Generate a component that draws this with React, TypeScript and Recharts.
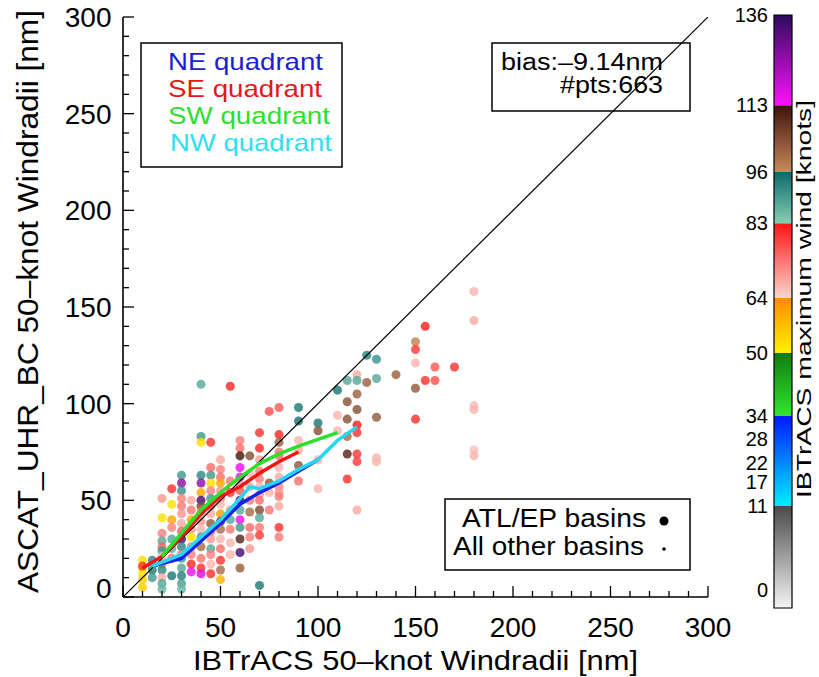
import React from 'react';
import {
  ScatterChart, Scatter, XAxis, YAxis, Cell, Customized,
  ComposedChart, ReferenceArea,
} from 'recharts';

const FONT = '"Liberation Sans", Arial, Helvetica, sans-serif';

// IBTrACS 50-kt radius bins (nm) and the ASCAT radii found in each bin
const ibtracsRadius = [10, 15, 20, 25, 30, 35, 40, 45, 50, 55, 60, 65, 70, 75, 80, 90, 100, 110, 115, 120, 125, 130, 140, 150, 155, 160, 170, 180];
const ascatRadius: number[][] = [
  [19, 15, 12, 9, 5, 16],
  [19, 14, 10, 16],
  [51, 41, 33, 29, 26, 24, 21, 17, 14, 10, 7, 4],
  [56, 48, 40, 36, 30, 25, 20, 11],
  [63, 59, 55, 51, 47, 43, 38, 34, 30, 26, 22, 20, 15, 11, 7, 4],
  [50, 45, 40, 35, 31, 26, 22, 17, 13],
  [110, 83, 80, 63, 59, 54, 50, 47, 44, 39, 35, 31, 26, 20, 15, 12],
  [80, 67, 63, 59, 55, 51, 47, 43, 38, 34, 30, 25, 22, 17, 12],
  [71, 66, 62, 59, 55, 51, 48, 43, 39, 35, 30, 25, 19, 14, 9],
  [109, 60, 54, 45, 40, 35, 28, 22],
  [81, 77, 73, 67, 62, 58, 55, 50, 45, 40, 36, 30, 23, 15],
  [73, 64, 57, 50, 44, 36, 31, 25],
  [85, 77, 71, 65, 61, 57, 53, 50, 45, 41, 36, 32, 6],
  [96, 59, 54, 45],
  [98, 84, 80, 75, 73, 67, 62, 57, 54, 52, 47, 36, 31],
  [98, 91, 81, 76, 68, 60],
  [90, 86, 71, 56],
  [107, 94, 86],
  [112, 101, 92, 83, 74, 61],
  [115, 112, 105, 97, 89, 85, 74, 70, 45],
  [125, 111],
  [123, 113, 93, 72, 70],
  [115],
  [132, 128, 121, 108, 92],
  [140, 112],
  [119, 112],
  [119],
  [158, 143, 99, 97, 76, 73],
];
// IBTrACS maximum wind (kt) for the same points
const maxWind: number[][] = [
  [52, 53, 52, 54, 55, 80],
  [92, 94, 90, 88],
  [70, 52, 72, 88, 75, 90, 67, 74, 92, 68, 88, 86],
  [80, 52, 60, 72, 88, 87, 74, 94],
  [90, 125, 91, 72, 73, 70, 68, 75, 133, 92, 74, 90, 88, 93, 89, 86],
  [68, 73, 60, 70, 52, 73, 72, 81, 115],
  [88, 90, 52, 92, 125, 60, 133, 105, 73, 70, 67, 89, 100, 73, 80, 117],
  [80, 74, 90, 52, 72, 90, 73, 68, 103, 75, 70, 88, 72, 67, 80],
  [68, 72, 74, 60, 70, 73, 67, 61, 110, 100, 67, 74, 80, 100, 58],
  [81, 73, 80, 70, 88, 73, 67, 67],
  [72, 74, 112, 115, 115, 70, 76, 133, 88, 115, 90, 110, 133, 102],
  [104, 67, 68, 73, 100, 74, 72, 70],
  [80, 81, 69, 73, 72, 67, 70, 74, 105, 88, 73, 79, 94],
  [77, 103, 67, 73],
  [76, 81, 102, 73, 74, 67, 68, 72, 70, 73, 68, 80, 73],
  [94, 95, 67, 68, 103, 74],
  [94, 104, 67, 67],
  [94, 67, 67],
  [88, 104, 104, 100, 110, 80],
  [68, 88, 102, 104, 82, 80, 79, 79, 68],
  [93, 102],
  [91, 88, 103, 67, 67],
  [102],
  [97, 79, 67, 103, 80],
  [82, 80],
  [76, 77],
  [80],
  [67, 68, 66, 67, 66, 67],
];

// quadrant median curves
const neRadius = [15, 30, 40, 50, 60, 70, 80, 90, 100];
const neAscat = [16, 20, 29, 38, 48, 54, 59, 65, 71];
const seRadius = [10, 20, 30, 40, 50, 60, 70, 80, 90];
const seAscat = [15, 21, 31, 43, 52, 57, 64, 70, 75];
const swRadius = [20, 30, 40, 50, 60, 70, 80, 90, 110];
const swAscat = [21, 33, 45, 54, 62, 69, 74, 78, 85];
const nwRadius = [15, 30, 40, 50, 60, 65, 70, 80, 90, 100, 110, 120];
const nwAscat = [16, 22, 31, 40, 51, 57, 56, 60, 66, 71, 81, 88];

const axisTicks = [0, 10, 20, 30, 40, 50, 60, 70, 80, 90, 100, 110, 120, 130, 140, 150, 160, 170, 180, 190, 200, 210, 220, 230, 240, 250, 260, 270, 280, 290, 300];

// colour table for maximum wind
const windBounds = [0, 11, 34, 50, 64, 83, 96, 113, 136];
const bandLow = ['#f4f4f4', '#00eeff', '#2ee82e', '#fff000', '#f8d4cc', '#84d0b4', '#c98a5e', '#ff10ff'];
const bandHigh = ['#4a4a4a', '#0018ff', '#107a10', '#ff8a00', '#ff1414', '#0c6a6c', '#3e1208', '#2c0a5c'];
const windTicks = [0, 11, 17, 22, 28, 34, 50, 64, 83, 96, 113, 136];
const calmFloor = -15; // the calm band is drawn taller than its 0-11 kt range

const hexRgb = (h: string) => [1, 3, 5].map((i) => parseInt(h.slice(i, i + 2), 16));
function windColor(w: number) {
  let i = 0;
  while (i < windBounds.length - 2 && w > windBounds[i + 1]) i++;
  const t = Math.max(0, Math.min(1, (w - windBounds[i]) / (windBounds[i + 1] - windBounds[i])));
  const a = hexRgb(bandLow[i]);
  const b = hexRgb(bandHigh[i]);
  return `rgb(${a.map((v, k) => Math.round(v + (b[k] - v) * t)).join(',')})`;
}

const points = ibtracsRadius.flatMap((x, i) =>
  ascatRadius[i].map((y, j) => ({ x, y, wind: maxWind[i][j] })));
const toXY = (xs: number[], ys: number[]) => xs.map((x, i) => ({ x, y: ys[i] }));
const quadrants = [
  { name: 'NE', data: toXY(neRadius, neAscat), color: '#1022e8' },
  { name: 'SE', data: toXY(seRadius, seAscat), color: '#f01616' },
  { name: 'SW', data: toXY(swRadius, swAscat), color: '#2ae02a' },
  { name: 'NW', data: toXY(nwRadius, nwAscat), color: '#26d6f2' },
];
const oneToOne = [{ x: 0, y: 0 }, { x: 300, y: 300 }];
const barSpan = [{ x: 0 }, { x: 1 }];

const MAJOR = 11;
const MINOR = 6;
const isMajor = (v: number) => v % 50 === 0;
const NoDot = () => <g />;

function BottomTick({ x, y, payload }: any) {
  const v = payload.value;
  return (
    <g>
      <line x1={x} y1={y} x2={x} y2={y - (isMajor(v) ? MAJOR : MINOR)} stroke="#000" strokeWidth={1.3} />
      {isMajor(v) && (
        <text x={x} y={y + 40} textAnchor="middle" fontSize={28} fontFamily={FONT} fill="#000">{v}</text>
      )}
    </g>
  );
}
function TopTick({ x, y, payload }: any) {
  return <line x1={x} y1={y} x2={x} y2={y + (isMajor(payload.value) ? MAJOR : MINOR)} stroke="#000" strokeWidth={1.3} />;
}
function LeftTick({ x, y, payload }: any) {
  const v = payload.value;
  return (
    <g>
      <line x1={x} y1={y} x2={x + (isMajor(v) ? MAJOR : MINOR)} y2={y} stroke="#000" strokeWidth={1.3} />
      {isMajor(v) && (
        <text x={x - 11.5} y={y + 10 - (v === 0 ? 9.5 : 0)} textAnchor="end" fontSize={28} fontFamily={FONT} fill="#000">{v}</text>
      )}
    </g>
  );
}
function RightTick({ x, y, payload }: any) {
  return <line x1={x} y1={y} x2={x - (isMajor(payload.value) ? MAJOR : MINOR)} y2={y} stroke="#000" strokeWidth={1.3} />;
}

function PlotText() {
  const stretch = { lengthAdjust: 'spacingAndGlyphs' as const };
  return (
    <g fontFamily={FONT}>
      <text x={415.5} y={670} textAnchor="middle" fontSize={28} textLength={445} {...stretch} fill="#000">
        IBTrACS 50–knot Windradii [nm]
      </text>
      <text transform="translate(38,301.5) rotate(-90)" textAnchor="middle" fontSize={30} textLength={583} {...stretch} fill="#000">
        ASCAT_UHR_BC 50–knot Windradii [nm]
      </text>

      <rect x={141} y={43} width={201} height={124} fill="none" stroke="#000" strokeWidth={1.5} />
      <text x={168} y={70} fontSize={24} textLength={155} {...stretch} fill="#1c1cd0">NE quadrant</text>
      <text x={168} y={96.5} fontSize={24} textLength={154} {...stretch} fill="#e41818">SE quadrant</text>
      <text x={168} y={124} fontSize={24} textLength={162} {...stretch} fill="#2ee02e">SW quadrant</text>
      <text x={170} y={151} fontSize={24} textLength={162} {...stretch} fill="#2ee0f0">NW quadrant</text>

      <rect x={492} y={43} width={198} height={68} fill="none" stroke="#000" strokeWidth={1.5} />
      <text x={501} y={69.5} fontSize={23} textLength={162} {...stretch} fill="#000">bias:–9.14nm</text>
      <text x={663} y={93} textAnchor="end" fontSize={23} textLength={103} {...stretch} fill="#000">#pts:663</text>

      <rect x={445} y={499} width={245} height={71} fill="none" stroke="#000" strokeWidth={1.5} />
      <text x={462} y={527} fontSize={26} textLength={184} {...stretch} fill="#000">ATL/EP basins</text>
      <circle cx={664} cy={521} r={4.5} fill="#000" />
      <text x={453} y={555} fontSize={26} textLength={191} {...stretch} fill="#000">All other basins</text>
      <circle cx={664} cy={549} r={1.8} fill="#000" />
    </g>
  );
}

function ColorbarTick({ x, y, payload }: any) {
  const calm = payload.value === calmFloor;
  return (
    <text x={x} y={y + 7 - (calm ? 18 : 0)} textAnchor="end" fontSize={20} fontFamily={FONT} fill="#000">
      {calm ? 0 : payload.value}
    </text>
  );
}
function ColorbarTitle() {
  return (
    <text transform="translate(811,299) rotate(-90)" textAnchor="middle" fontSize={21} fontFamily={FONT}
      textLength={398} lengthAdjust="spacingAndGlyphs" fill="#000">
      IBTrACS maximum wind [knots]
    </text>
  );
}

const frame = { stroke: '#000', strokeWidth: 1.6 };

export default function App() {
  return (
    <div style={{ position: 'absolute', left: 0, top: 0, width: 819, height: 677, background: '#fff', fontFamily: FONT }}>
      <div style={{ position: 'absolute', left: 0, top: 0 }}>
        <ScatterChart width={819} height={677} margin={{ top: 17, right: 111, bottom: 0, left: 0 }}>
          <XAxis xAxisId="b" type="number" dataKey="x" domain={[0, 300]} ticks={axisTicks} interval={0}
            height={80} tickSize={0} tickMargin={0} tickLine={false} axisLine={frame} tick={BottomTick} allowDataOverflow />
          <XAxis xAxisId="t" orientation="top" type="number" dataKey="x" domain={[0, 300]} ticks={axisTicks} interval={0}
            height={0} tickSize={0} tickMargin={0} tickLine={false} axisLine={frame} tick={TopTick} allowDataOverflow />
          <YAxis yAxisId="l" type="number" dataKey="y" domain={[0, 300]} ticks={axisTicks} interval={0}
            width={123} tickSize={0} tickMargin={0} tickLine={false} axisLine={frame} tick={LeftTick} allowDataOverflow />
          <YAxis yAxisId="r" orientation="right" type="number" dataKey="y" domain={[0, 300]} ticks={axisTicks} interval={0}
            width={0} tickSize={0} tickMargin={0} tickLine={false} axisLine={frame} tick={RightTick} allowDataOverflow />

          <Scatter xAxisId="b" yAxisId="l" data={points} isAnimationActive={false} fillOpacity={0.82}>
            {points.map((p, i) => <Cell key={i} fill={windColor(p.wind)} />)}
          </Scatter>
          <Scatter xAxisId="b" yAxisId="l" data={oneToOne} line={{ stroke: '#000', strokeWidth: 1.2 }}
            shape={NoDot} isAnimationActive={false} />
          {quadrants.map((q) => (
            <Scatter key={q.name} xAxisId="b" yAxisId="l" data={q.data} line={{ stroke: q.color, strokeWidth: 3.5 }}
              shape={NoDot} isAnimationActive={false} />
          ))}
          <Customized component={PlotText} />
        </ScatterChart>
      </div>

      <div style={{ position: 'absolute', left: 0, top: 0 }}>
        <ComposedChart width={819} height={677} margin={{ top: 15, right: 27, bottom: 0, left: 0 }} data={barSpan}>
          <defs>
            {bandLow.map((c, i) => (
              <linearGradient key={i} id={`band${i}`} x1="0" y1="1" x2="0" y2="0">
                <stop offset="0%" stopColor={c} />
                <stop offset="100%" stopColor={bandHigh[i]} />
              </linearGradient>
            ))}
          </defs>
          <XAxis xAxisId="cb" type="number" dataKey="x" domain={[0, 1]} height={69} tick={false} tickLine={false}
            axisLine={false} allowDataOverflow />
          <YAxis yAxisId="cb" type="number" domain={[calmFloor, 136]} width={774} interval={0}
            ticks={windTicks.map((v) => (v === 0 ? calmFloor : v))}
            tickSize={0} tickMargin={6} tickLine={false} axisLine={false} tick={ColorbarTick} allowDataOverflow />
          {bandLow.map((_, i) => (
            <ReferenceArea key={i} xAxisId="cb" yAxisId="cb" x1={0} x2={1}
              y1={i === 0 ? calmFloor : windBounds[i]} y2={windBounds[i + 1]}
              fill={`url(#band${i})`} fillOpacity={1} stroke="none" ifOverflow="visible" />
          ))}
          <ReferenceArea xAxisId="cb" yAxisId="cb" x1={0} x2={1} y1={calmFloor} y2={136}
            fill="none" stroke="#000" strokeWidth={1.2} ifOverflow="visible" />
          <Customized component={ColorbarTitle} />
        </ComposedChart>
      </div>
    </div>
  );
}
